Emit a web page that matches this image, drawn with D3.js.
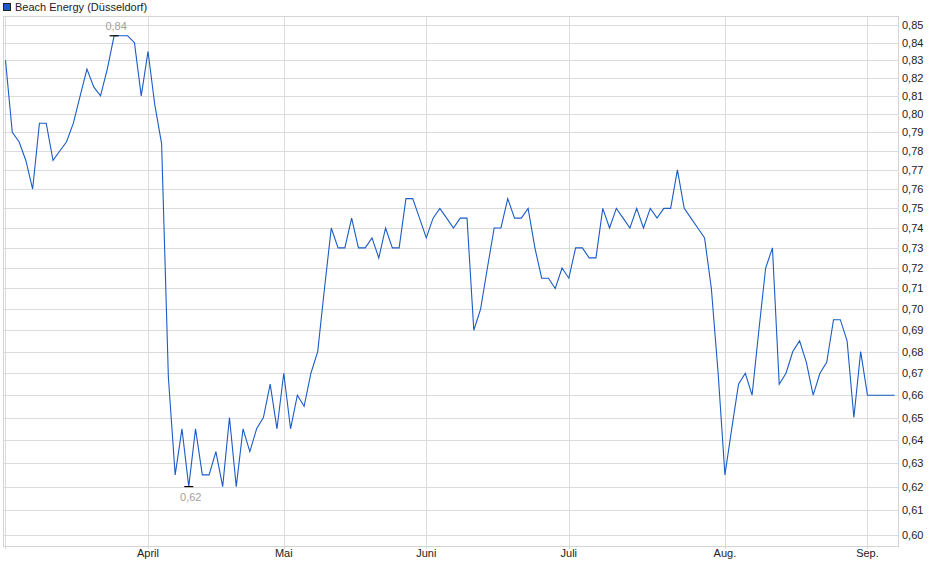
<!DOCTYPE html>
<html>
<head>
<meta charset="utf-8">
<script src="https://cdn.jsdelivr.net/npm/d3@7"></script>
<style>
  body { margin: 0; background: #fff; }
  text { font-family: "Liberation Sans", Arial, sans-serif; }
</style>
</head>
<body>
<div id="data_viz_area"></div>
<script>
// data: one close per trading day (Düsseldorf), 03.03.2025 - 05.09.2025
var seriesName = "Beach Energy (Düsseldorf)";
var firstDay = "2025-03-03", lastDay = "2025-09-05";
var holidays = ["2025-04-18", "2025-04-21", "2025-05-01"];
var prices = [
  0.83, 0.79, 0.785, 0.775, 0.76, 0.795, 0.795, 0.775, 0.78, 0.785,
  0.795, 0.81, 0.825, 0.815, 0.81, 0.825, 0.844, 0.844, 0.844, 0.84,
  0.81, 0.835, 0.805, 0.784, 0.668, 0.625, 0.645, 0.62, 0.645, 0.625,
  0.625, 0.635, 0.62, 0.65, 0.62, 0.645, 0.635, 0.645, 0.65, 0.665,
  0.645, 0.67, 0.645, 0.66, 0.655, 0.67, 0.68, 0.71, 0.74, 0.73,
  0.73, 0.745, 0.73, 0.73, 0.735, 0.725, 0.74, 0.73, 0.73, 0.755,
  0.755, 0.745, 0.735, 0.745, 0.75, 0.745, 0.74, 0.745, 0.745, 0.69,
  0.70, 0.72, 0.74, 0.74, 0.755, 0.745, 0.745, 0.75, 0.73, 0.715,
  0.715, 0.71, 0.72, 0.715, 0.73, 0.73, 0.725, 0.725, 0.75, 0.74,
  0.75, 0.745, 0.74, 0.75, 0.74, 0.75, 0.745, 0.75, 0.75, 0.77,
  0.75, 0.745, 0.74, 0.735, 0.71, 0.67, 0.625, 0.645, 0.665, 0.67,
  0.66, 0.69, 0.72, 0.73, 0.665, 0.67, 0.68, 0.685, 0.675, 0.66,
  0.67, 0.675, 0.695, 0.695, 0.685, 0.65, 0.68, 0.66, 0.66, 0.66,
  0.66, 0.66
];
var monthLabels = ["April", "Mai", "Juni", "Juli", "Aug.", "Sep."];
var yTicks = [0.60, 0.61, 0.62, 0.63, 0.64, 0.65, 0.66, 0.67, 0.68, 0.69, 0.70, 0.71, 0.72,
              0.73, 0.74, 0.75, 0.76, 0.77, 0.78, 0.79, 0.80, 0.81, 0.82, 0.83, 0.84, 0.85];

// trading days (weekdays without exchange holidays)
var fmt = d3.timeFormat("%Y-%m-%d");
var days = d3.timeDay.range(new Date(firstDay + "T00:00"), d3.timeDay.offset(new Date(lastDay + "T00:00"), 1))
  .filter(d => d.getDay() != 0 && d.getDay() != 6 && holidays.indexOf(fmt(d)) < 0);

var data = days.map((d, i) => ({ date: d, i: i, value: prices[i] }));

// first trading day of each month after the start
var monthTicks = [];
data.forEach(function(d, i) {
  if (i > 0 && d.date.getMonth() != data[i - 1].date.getMonth()) monthTicks.push(i);
});

var width = 940, height = 579;
var plot = {left: 4, right: 898, top: 16, bottom: 546};

var svg = d3.select("#data_viz_area")
  .append("svg")
    .attr("width", width)
    .attr("height", height);

// x by trading day index, y log scale
var x = d3.scaleLinear()
  .domain([-0.22, data.length - 0.5])
  .range([plot.left, plot.right]);

var y = d3.scaleLog()
  .domain([0.5953, 0.8555])
  .range([plot.bottom, plot.top]);

// horizontal grid
svg.append("g")
  .selectAll("line")
  .data(yTicks)
  .join("line")
    .attr("x1", plot.left)
    .attr("x2", plot.right)
    .attr("y1", d => Math.round(y(d)) + 0.5)
    .attr("y2", d => Math.round(y(d)) + 0.5)
    .attr("stroke", "#dcdcdc");

// vertical grid (month starts + first day)
svg.append("g")
  .selectAll("line")
  .data([0].concat(monthTicks))
  .join("line")
    .attr("x1", d => Math.round(x(d)) + 0.5)
    .attr("x2", d => Math.round(x(d)) + 0.5)
    .attr("y1", plot.top)
    .attr("y2", plot.bottom + 3)
    .attr("stroke", "#dcdcdc");

// plot border
svg.append("rect")
  .attr("x", plot.left - 0.5)
  .attr("y", plot.top + 0.5)
  .attr("width", plot.right - plot.left + 1)
  .attr("height", plot.bottom - plot.top)
  .attr("fill", "none")
  .attr("stroke", "#d4d4d4");

// right axis labels
svg.append("g")
  .selectAll("text")
  .data(yTicks)
  .join("text")
    .attr("x", 902)
    .attr("y", d => y(d) + 4)
    .attr("font-size", 11)
    .attr("fill", "#222")
    .text(d => d3.format(".2f")(d).replace(".", ","));

// month labels
svg.append("g")
  .selectAll("text")
  .data(monthTicks)
  .join("text")
    .attr("x", d => x(d))
    .attr("y", 557)
    .attr("font-size", 11)
    .attr("fill", "#222")
    .attr("text-anchor", "middle")
    .text((d, i) => monthLabels[i]);

// price line
var line = d3.line()
  .x(d => x(d.i))
  .y(d => y(d.value));

svg.append("path")
  .datum(data)
  .attr("fill", "none")
  .attr("stroke", "#1b5cc6")
  .attr("stroke-width", 1.1)
  .attr("d", line);

// max / min markers
var hi = data[d3.maxIndex(data, d => d.value)];
var lo = data[d3.minIndex(data, d => d.value)];
var fmtLabel = v => (Math.floor(v * 100 + 1e-6) / 100).toFixed(2).replace(".", ",");

[hi, lo].forEach(function(d) {
  svg.append("line")
    .attr("x1", x(d.i) - 4.5)
    .attr("x2", x(d.i) + 4.5)
    .attr("y1", y(d.value))
    .attr("y2", y(d.value))
    .attr("stroke", "#000")
    .attr("stroke-width", 1.2);
  svg.append("text")
    .attr("x", x(d.i) + 2)
    .attr("y", d === hi ? y(d.value) - 6 : y(d.value) + 14)
    .attr("font-size", 11)
    .attr("fill", "#a0a0a0")
    .attr("text-anchor", "middle")
    .text(fmtLabel(d.value));
});

// legend
svg.append("rect")
  .attr("x", 3.5)
  .attr("y", 3.5)
  .attr("width", 7)
  .attr("height", 7)
  .attr("fill", "#1b5cc6")
  .attr("stroke", "#222");

svg.append("text")
  .attr("x", 15)
  .attr("y", 11)
  .attr("font-size", 11)
  .attr("fill", "#222")
  .text(seriesName);
</script>
</body>
</html>
